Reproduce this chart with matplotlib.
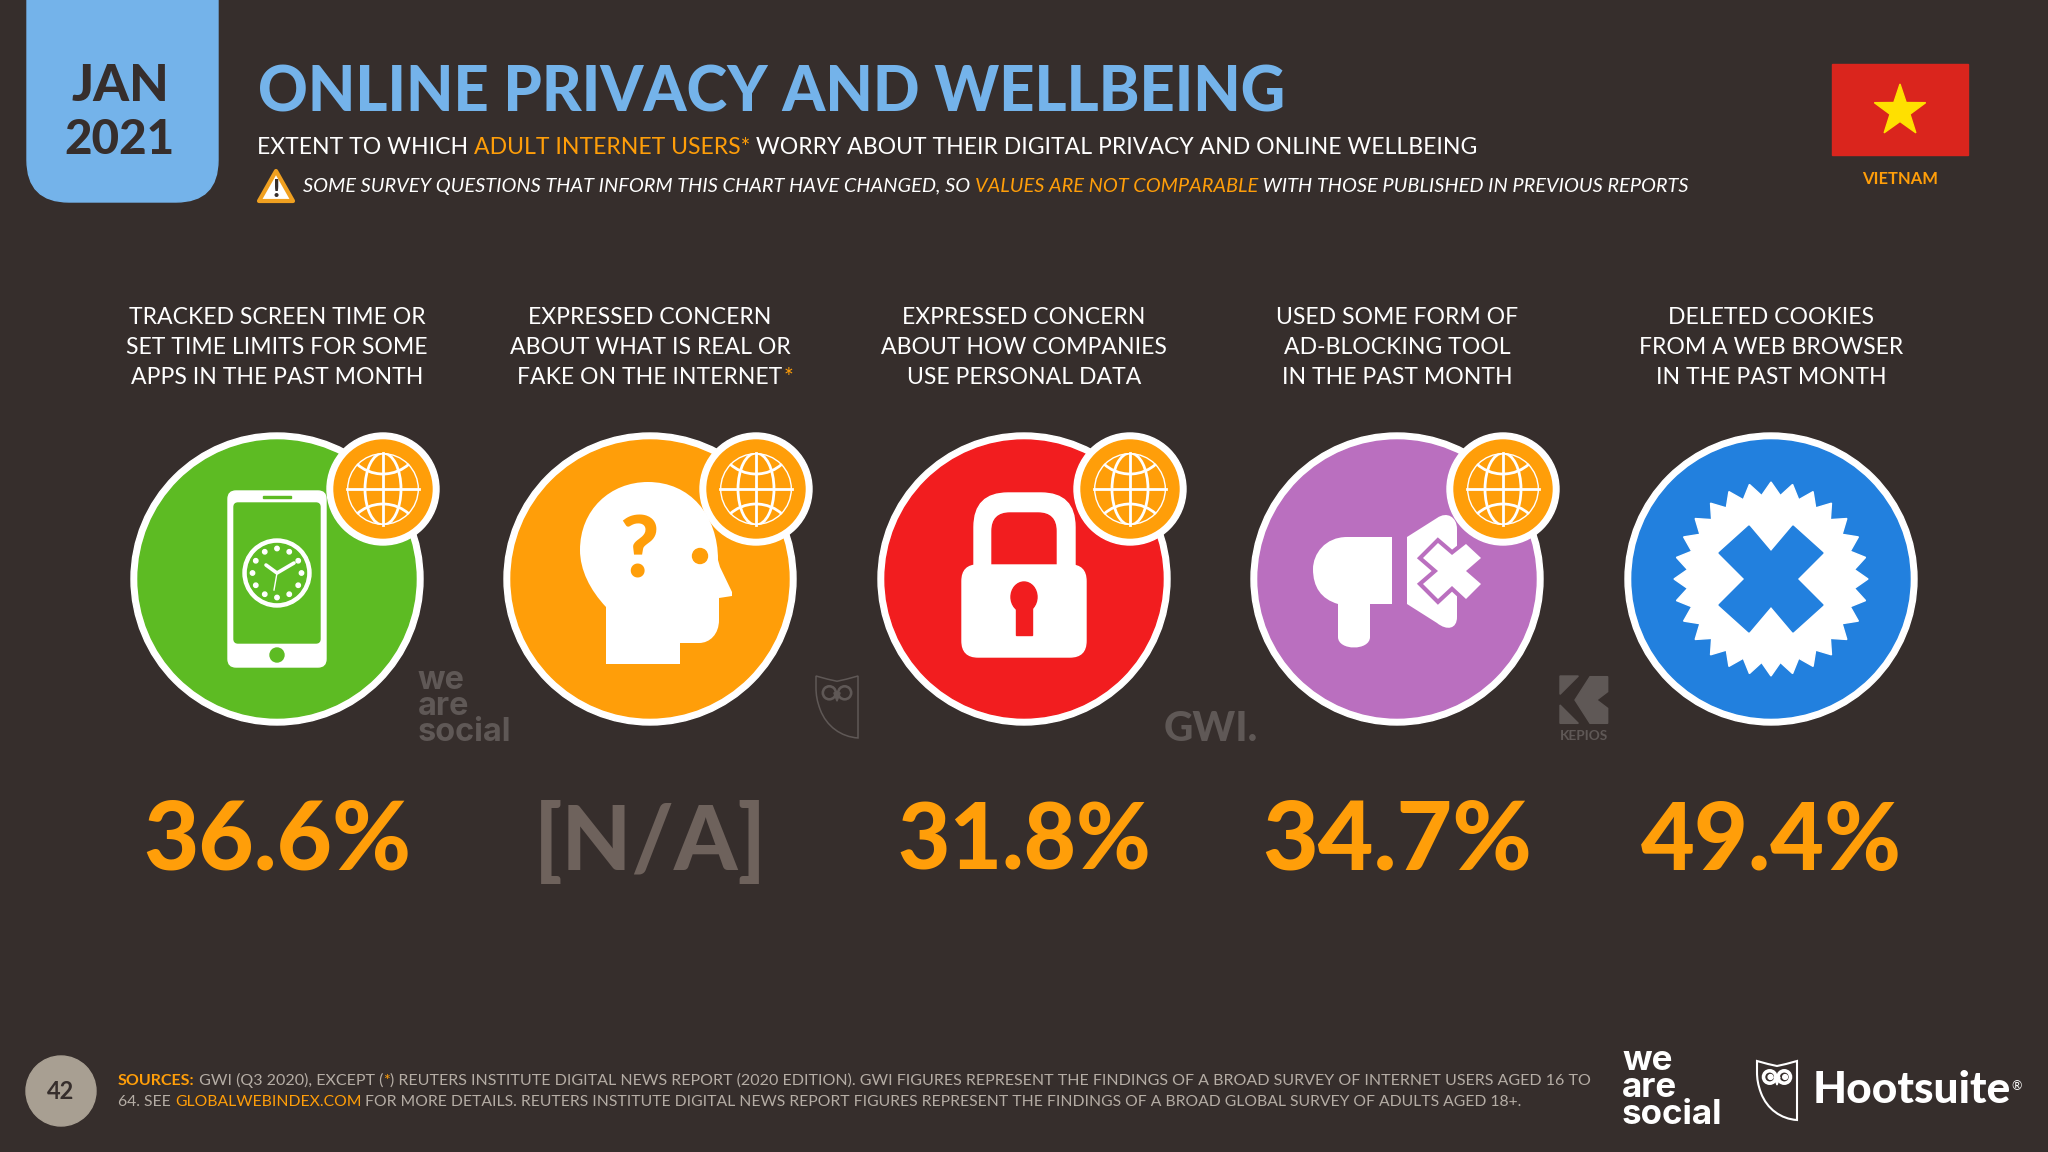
import numpy as np
import matplotlib
matplotlib.use("Agg")
import matplotlib.pyplot as plt
from matplotlib.patches import Circle, Ellipse, FancyBboxPatch, PathPatch, Polygon, Rectangle
from matplotlib.path import Path

# data
month = "JAN"
year = "2021"
title = "ONLINE PRIVACY AND WELLBEING"
country = "VIETNAM"
subtitle = [("EXTENT TO WHICH ", "w"), ("ADULT INTERNET USERS*", "o"),
            (" WORRY ABOUT THEIR DIGITAL PRIVACY AND ONLINE WELLBEING", "w")]
warning = [("SOME SURVEY QUESTIONS THAT INFORM THIS CHART HAVE CHANGED, SO ", "w"),
           ("VALUES ARE NOT COMPARABLE", "o"),
           (" WITH THOSE PUBLISHED IN PREVIOUS REPORTS", "w")]
labels = [
    ["TRACKED SCREEN TIME OR", "SET TIME LIMITS FOR SOME", "APPS IN THE PAST MONTH"],
    ["EXPRESSED CONCERN", "ABOUT WHAT IS REAL OR", "FAKE ON THE INTERNET"],
    ["EXPRESSED CONCERN", "ABOUT HOW COMPANIES", "USE PERSONAL DATA"],
    ["USED SOME FORM OF", "AD-BLOCKING TOOL", "IN THE PAST MONTH"],
    ["DELETED COOKIES", "FROM A WEB BROWSER", "IN THE PAST MONTH"],
]
values = ["36.6%", "[N/A]", "31.8%", "34.7%", "49.4%"]
value_widths = [268, 233, 254, 270, 261]
has_globe = [True, True, True, True, False]
circle_colors = ["#5DBB23", "#FF9E09", "#F21D1F", "#BA6FBF", "#2280DE"]
source_1 = [("SOURCES:", "ob"), (" GWI (Q3 2020), EXCEPT (", "g"), ("*", "o"),
            (") REUTERS INSTITUTE DIGITAL NEWS REPORT (2020 EDITION). GWI FIGURES REPRESENT THE FINDINGS OF A BROAD SURVEY OF INTERNET USERS AGED 16 TO", "g")]
source_2 = [("64. SEE ", "g"), ("GLOBALWEBINDEX.COM", "o"),
            (" FOR MORE DETAILS. REUTERS INSTITUTE DIGITAL NEWS REPORT FIGURES REPRESENT THE FINDINGS OF A BROAD GLOBAL SURVEY OF ADULTS AGED 18+.", "g")]
page = "42"

BG = "#362E2C"
BLUE = "#74B3EA"
ORANGE = "#FF9E09"
WHITE = "#FFFFFF"
GREY = "#B5ADA5"
MARK = "#5F5856"
FONT = "Lato"
cols = np.array([277, 650, 1024, 1397, 1771])
cy = 579
colmap = {"w": WHITE, "o": ORANGE, "ob": ORANGE, "g": GREY}

fig = plt.figure(figsize=(20.48, 11.52), dpi=100, facecolor=BG)
ax = fig.add_axes([0, 0, 1, 1])
ax.set_xlim(0, 2048)
ax.set_ylim(1152, 0)
ax.axis("off")
renderer = fig.canvas.get_renderer()
z = [1]


def add(p):
    z[0] += 1
    p.set_zorder(z[0])
    ax.add_patch(p)
    return p


def width_of(s, size, family=FONT, **kw):
    # bar characters keep leading and trailing blanks in the measure
    t = ax.text(0, 0, "|" + s + "|", fontsize=size, family=family, **kw)
    b = t.get_window_extent(renderer).width
    t.set_text("||")
    b -= t.get_window_extent(renderer).width
    t.remove()
    return b


def put(x, y, s, width=None, size=20, color=WHITE, ha="left", family=FONT, **kw):
    if width is not None:
        size = size * width / width_of(s, size, family=family, **kw)
    return ax.text(x, y, s, fontsize=size, color=color, ha=ha, va="baseline",
                   family=family, zorder=1000, **kw)


def put_parts(x, y, parts, width, weight="normal", style="normal"):
    base = 20
    kws = [dict(weight="bold" if k == "ob" else weight, style=style) for _, k in parts]
    total = sum(width_of(s, base, **kw) for (s, _), kw in zip(parts, kws))
    size = base * width / total
    for (s, k), kw in zip(parts, kws):
        put(x, y, s, size=size, color=colmap[k], **kw)
        x += width_of(s, size, **kw)


def curve(points, color, edge="none", lw=0):
    # points: start, then line points (2 numbers) or cubic segments (6 numbers)
    verts = [points[0]]
    codes = [Path.MOVETO]
    for p in points[1:]:
        if len(p) == 2:
            verts.append(p)
            codes.append(Path.LINETO)
        else:
            verts += [p[:2], p[2:4], p[4:]]
            codes += [Path.CURVE4] * 3
    verts.append(points[0])
    codes.append(Path.CLOSEPOLY)
    return add(PathPatch(Path(verts, codes), facecolor=color, edgecolor=edge, linewidth=lw))


def globe(x, y):
    add(Circle((x, y), 56, color=WHITE))
    add(Circle((x, y), 49, color=ORANGE))
    clip = Circle((x, y), 36, transform=ax.transData)
    lw = 2
    for e in [Circle((x, y), 36), Ellipse((x, y), 36, 72), Circle((x, y - 54), 39), Circle((x, y + 54), 39)]:
        e.set(facecolor="none", edgecolor=WHITE, linewidth=lw)
        add(e)
        e.set_clip_path(clip)
    ax.plot([x, x], [y - 36, y + 36], color=WHITE, lw=lw, zorder=z[0])
    ax.plot([x - 36, x + 36], [y, y], color=WHITE, lw=lw, zorder=z[0])


def phone(x, y, c):
    add(FancyBboxPatch((x - 49, y - 88), 98, 176, boxstyle="round,pad=0,rounding_size=8", color=WHITE))
    add(FancyBboxPatch((x - 43, y - 76), 86, 140, boxstyle="round,pad=0,rounding_size=4", color=c))
    add(Rectangle((x - 14, y - 83.5), 28, 2.5, color=c))
    add(Circle((x, y + 76), 7, color=c))
    add(Circle((x, y - 6), 34, color=WHITE))
    add(Circle((x, y - 6), 29.5, color=c))
    for a in np.arange(0, 360, 30):
        add(Circle((x + 24.5 * np.sin(np.radians(a)), y - 6 - 24.5 * np.cos(np.radians(a))), 2.2, color=WHITE))
    ax.plot([x - 11, x, x + 17], [y - 14, y - 6, y - 16], color=WHITE, lw=2.6, zorder=z[0], solid_capstyle="round")
    ax.plot([x, x - 3], [y - 6, y + 11], color=WHITE, lw=1, zorder=z[0])


def head(x, y, c):
    curve([(x - 44, y + 85), (x - 44, y + 28),
           (x - 60, y + 11, x - 70, y - 9, x - 70, y - 29),
           (x - 70, y - 69, x - 40, y - 97, x - 2, y - 97),
           (x + 40, y - 97, x + 68, y - 64, x + 68, y - 19),
           (x + 70, y - 12), (x + 82, y + 13),
           (x + 82, y + 17), (x + 69, y + 19), (x + 69, y + 41),
           (x + 69, y + 55, x + 60, y + 64, x + 49, y + 64),
           (x + 30, y + 64), (x + 30, y + 85)], WHITE)
    add(Circle((x + 50, y - 23), 7.5, color=c))
    put(x - 11, y - 1, "?", size=61, color=c, weight="black", ha="center")


def lock(x, y, c):
    add(FancyBboxPatch((x - 50, y - 86), 101, 150, boxstyle="round,pad=0,rounding_size=34", color=WHITE))
    add(FancyBboxPatch((x - 32, y - 66), 64, 110, boxstyle="round,pad=0,rounding_size=18", color=c))
    add(FancyBboxPatch((x - 62, y - 14), 124, 92, boxstyle="round,pad=0,rounding_size=16", color=WHITE))
    add(Ellipse((x, y + 18), 26, 30, color=c))
    add(Rectangle((x - 8, y + 20), 16, 36, color=c))


def megaphone(x, y, c):
    curve([(x - 5, y - 42), (x - 50, y - 42), (x - 72, y - 42, x - 84, y - 25, x - 84, y - 10),
           (x - 84, y + 8, x - 76, y + 20, x - 59, y + 25), (x - 59, y + 58),
           (x - 59, y + 72, x - 27, y + 72, x - 27, y + 58), (x - 27, y + 25), (x - 5, y + 25)], WHITE)
    curve([(x + 10, y - 42), (x + 40, y - 61), (x + 50, y - 68, x + 60, y - 62, x + 60, y - 50),
           (x + 60, y + 38), (x + 60, y + 50, x + 50, y + 52, x + 40, y + 44), (x + 10, y + 25)], WHITE)
    pts = np.array([(-14, -28), (0, -16), (14, -27), (29, -13), (14, 0), (29, 13), (14, 28), (0, 15),
                    (-14, 28), (-29, 13), (-14, 0), (-29, -13)]) + [x + 55, y - 8]
    # outline shows only where the cross lies on the white plate
    add(Polygon(pts, closed=True, facecolor=WHITE, edgecolor=c, linewidth=6, joinstyle="miter"))
    add(Polygon(pts, closed=True, facecolor=WHITE, edgecolor="none"))


def burst(x, y, c):
    n = 28
    a = np.arange(2 * n) * np.pi / n
    r = np.where(np.arange(2 * n) % 2 == 0, 97, 84)
    add(Polygon(np.c_[x + r * np.sin(a), y - r * np.cos(a)], closed=True, color=WHITE))
    cross = np.array([(-52, -26), (-22, -53), (0, -27), (22, -53), (52, -26), (26, 0),
                      (52, 26), (22, 53), (0, 27), (-22, 53), (-52, 26), (-26, 0)])
    add(Polygon(cross + [x, y], closed=True, color=c))


def owl(x0, y0, w, color, lw, solid):
    s = w / 40
    X = lambda a: x0 + a * s
    Y = lambda b: y0 + b * s
    curve([(X(0), Y(0)), (X(11), Y(3)), (X(20), Y(5)), (X(29), Y(3)), (X(40), Y(0)), (X(40), Y(59)),
           (X(24), Y(58), X(10), Y(48), X(4), Y(32)),
           (X(1), Y(24), X(0), Y(18), X(0), Y(11))], "none", edge=color, lw=lw)
    for dx in (12.7, 27.3):
        add(Circle((X(dx), Y(16)), 6.2 * s, facecolor="none", edgecolor=color, linewidth=lw * 1.7))
        if solid:
            add(Circle((X(dx + 0.8), Y(16)), 2.4 * s, color=color))
    add(Polygon([(X(17), Y(16)), (X(23), Y(16)), (X(20), Y(24))], closed=True, color=color))


def stack(x, y, width, color):
    # y is the baseline of the last line
    size = 20 * width / width_of("social", 20, family="Inter", weight="bold")
    ax.text(x, y, "we\nare\nsocial", fontsize=size, color=color, ha="left", va="baseline",
            family="Inter", weight="bold", linespacing=0.8, zorder=1000)


# header
add(FancyBboxPatch((27, -60), 191, 262, boxstyle="round,pad=0,rounding_size=42", color=BLUE))
put(120, 101, month, width=98, size=40, color=BG, ha="center", weight="black")
put(119, 154, year, width=110, size=40, color=BG, ha="center", weight="black")
put(258, 111, title, width=1029, size=50, color=BLUE, weight="black")
put_parts(257, 154, subtitle, 1218)
add(Polygon([(276, 171), (259, 201), (293, 201)], closed=True, facecolor=WHITE, edgecolor="#F0A020", linewidth=3, joinstyle="round"))
put(276, 197, "!", size=18, color=BG, ha="center", weight="black")
put_parts(303, 192, warning, 1388, style="italic")

# flag
add(Rectangle((1832, 64), 136, 91, color="#DA251D"))
star = np.arange(10) * np.pi / 5
star_r = np.where(np.arange(10) % 2 == 0, 27, 10.5)
add(Polygon(np.c_[1900 + star_r * np.sin(star), 111 - star_r * np.cos(star)], closed=True, color="#FFE000"))
put(1900, 184, country, width=76, size=14, color=ORANGE, ha="center", weight="bold")

# columns
icons = [phone, head, lock, megaphone, burst]
for i, x in enumerate(cols):
    for j, line in enumerate(labels[i]):
        t = put(x, 324 + 30 * j, line, size=16.6, color=WHITE, ha="center")
        if line.endswith("INTERNET"):
            b = t.get_window_extent(renderer)
            put(b.x1 + 1, 324 + 30 * j, "*", size=16.6, color=ORANGE)
    add(Circle((x, cy), 146, color=WHITE))
    add(Circle((x, cy), 139, color=circle_colors[i]))
    icons[i](x, cy, circle_colors[i])
    if has_globe[i]:
        globe(x + 106, cy - 90)
    col = "#6E625C" if values[i].startswith("[") else ORANGE
    put(x, 870, values[i], width=value_widths[i], size=70, color=col, ha="center", weight="black")

# watermarks
stack(418, 741, 94, MARK)
owl(816, 676, 42, MARK, 1.1, False)
put(1164, 741, "GWI.", width=94, size=36, color=MARK, weight="black")
kx = lambda v: 1290 + v / 3
ky = lambda v: 480 + v / 3
for shape in [[(810, 588), (865, 588), (810, 643)],
              [(810, 675), (865, 730), (810, 730)],
              [(900, 590), (953, 590), (953, 635), (920, 660), (953, 685), (953, 730), (900, 730), (855, 660)]]:
    add(Polygon([(kx(a), ky(b)) for a, b in shape], closed=True, color=MARK))
put(1560, 740, "KEPIOS", width=48, size=11, color=MARK, weight="bold")

# footer
add(Circle((61, 1091), 35, color="#A89F92"))
put(61, 1099, page, size=17, color=BG, ha="center", weight="bold")
put_parts(118, 1085, source_1, 1469)
put_parts(118, 1106, source_2, 1403)
stack(1622, 1124, 101, WHITE)
owl(1757, 1061, 40, WHITE, 1.5, True)
put(1813, 1103, "Hootsuite", width=198, size=40, color=WHITE, weight="black")
put(2017, 1090, "®", size=9, color=WHITE, ha="center")

fig.savefig("out.png", dpi=100, facecolor=BG)
